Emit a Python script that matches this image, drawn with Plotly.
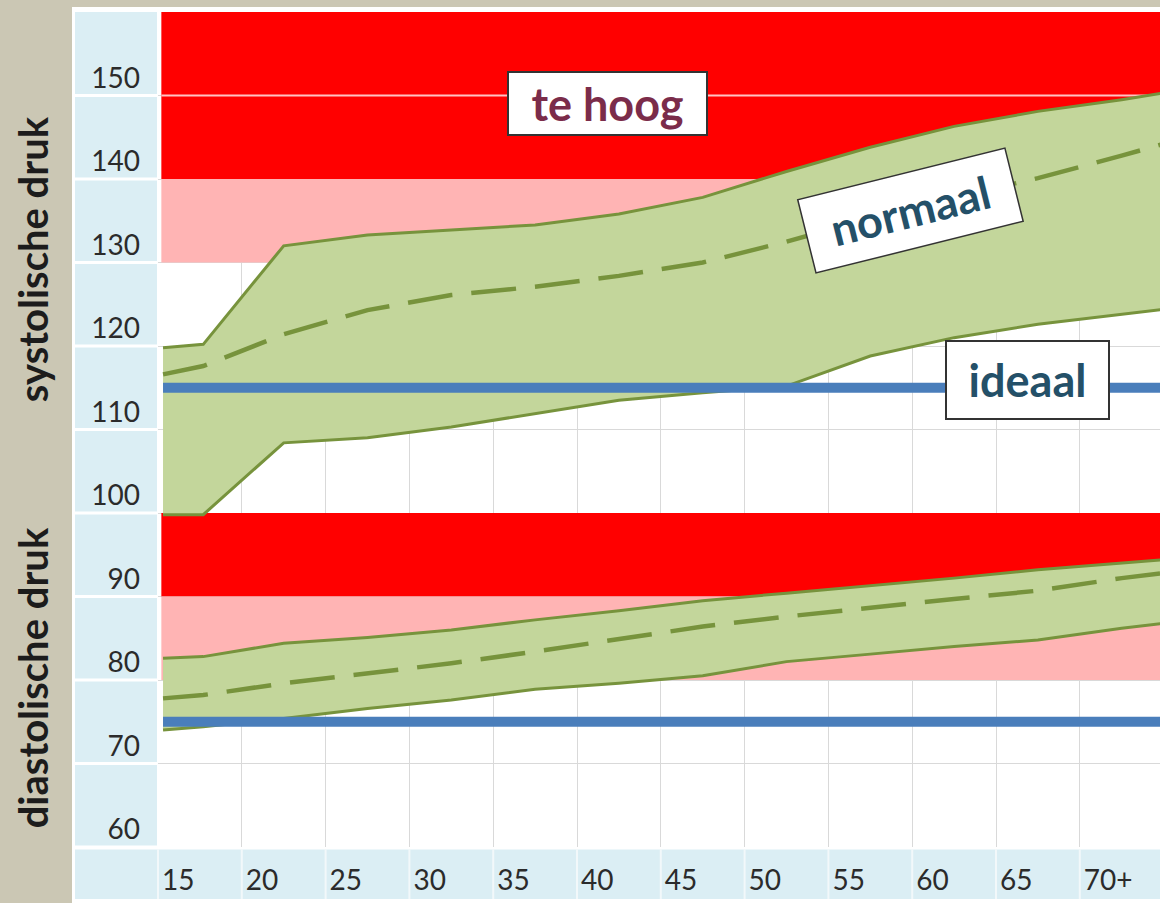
import plotly.graph_objects as go

# ---------------- data ----------------
AGES = [15.3, 17.7, 22.5, 27.5, 32.5, 37.5, 42.5, 47.5, 52.5, 57.5, 62.5, 67.5, 72.5, 75.0]

SYS_UPPER = [119.8, 120.2, 132.0, 133.3, 133.9, 134.5, 135.8, 137.8, 140.9, 143.8, 146.3, 148.1, 149.5, 150.3]
SYS_MID   = [116.6, 117.6, 121.4, 124.3, 126.1, 127.1, 128.4, 130.0, 132.5, 135.3, 137.8, 140.1, 142.8, 144.2]
SYS_LOWER = [99.8, 99.8, 108.4, 109.0, 110.3, 111.9, 113.5, 114.4, 115.2, 118.8, 121.0, 122.6, 123.8, 124.4]

DIA_UPPER = [82.6, 82.8, 84.4, 85.1, 86.0, 87.2, 88.3, 89.5, 90.4, 91.3, 92.2, 93.2, 94.0, 94.4]
DIA_MID   = [77.8, 78.2, 79.6, 80.8, 82.0, 83.4, 84.9, 86.4, 87.6, 88.7, 89.7, 90.7, 92.2, 92.8]
DIA_LOWER = [74.0, 74.4, 75.4, 76.6, 77.6, 78.9, 79.6, 80.5, 82.2, 83.1, 84.0, 84.8, 86.2, 86.8]

SYS_IDEAL = 115
DIA_IDEAL = 75

BAND_AGES = [15.2, 75.0]
ZONE_LOW  = [140, 130, 90, 80]
ZONE_HIGH = [160, 140, 100, 90]
ZONE_KIND = ["te hoog", "hoog-normaal", "te hoog", "hoog-normaal"]
SPLIT_LINE = 150

Y_TICKS = [60, 70, 80, 90, 100, 110, 120, 130, 140, 150]
Y_LABELS = [str(v) for v in Y_TICKS]
X_TICKS = [15, 20, 25, 30, 35, 40, 45, 50, 55, 60, 65, 70]
X_LABELS = ["15", "20", "25", "30", "35", "40", "45", "50", "55", "60", "65", "70+"]

# ---------------- styling ----------------
RED = "#ff0000"
PINK = "#ffb4b4"
GREEN_FILL = "#c3d69b"
GREEN_LINE = "#77933c"
BLUE = "#4a7ebb"
BEIGE = "#cbc7b4"
LIGHTBLUE = "#dbeef4"
FONT = "Lato"

W, H = 1160, 903
ML, MR, MT, MB = 158, 0, 12, 56
PLOT_W = W - ML - MR
PLOT_H = H - MT - MB
X_MIN = 15
X_MAX = X_MIN + PLOT_W / (83.8 / 5)
Y_MIN, Y_MAX = 60, 160


def px_x(px):
    return (px - ML) / PLOT_W


def px_y(py):
    return (H - MB - py) / PLOT_H


fig = go.Figure()

# coloured zones
for lo, hi, kind in zip(ZONE_LOW, ZONE_HIGH, ZONE_KIND):
    col = RED if kind == "te hoog" else PINK
    fig.add_trace(go.Scatter(
        x=[BAND_AGES[0], BAND_AGES[1], BAND_AGES[1], BAND_AGES[0]],
        y=[lo, lo, hi, hi], fill="toself", fillcolor=col,
        line=dict(width=0), mode="lines", hoverinfo="skip"))

fig.add_trace(go.Scatter(x=BAND_AGES, y=[SPLIT_LINE, SPLIT_LINE], mode="lines",
                         line=dict(color="#ffc4c4", width=2), hoverinfo="skip"))

# normal bands
for up, lo in ((SYS_UPPER, SYS_LOWER), (DIA_UPPER, DIA_LOWER)):
    fig.add_trace(go.Scatter(
        x=AGES + AGES[::-1], y=up + lo[::-1], fill="toself",
        fillcolor=GREEN_FILL, mode="lines",
        line=dict(color=GREEN_LINE, width=3), hoverinfo="skip"))

for mid in (SYS_MID, DIA_MID):
    fig.add_trace(go.Scatter(x=AGES, y=mid, mode="lines",
                             line=dict(color=GREEN_LINE, width=4.5, dash="45px,19px"),
                             hoverinfo="skip"))

for ideal in (SYS_IDEAL, DIA_IDEAL):
    fig.add_trace(go.Scatter(x=[AGES[0], AGES[-1]], y=[ideal, ideal], mode="lines",
                             line=dict(color=BLUE, width=10), hoverinfo="skip"))

# ---------------- decorations (cells around the plot) ----------------
shapes = []
shapes.append(dict(type="rect", xref="paper", yref="paper",
                   x0=px_x(72), x1=1.0, y0=px_y(H + 2), y1=px_y(7),
                   fillcolor="white", line=dict(width=0), layer="below"))
shapes.append(dict(type="rect", xref="paper", yref="paper",
                   x0=px_x(75), x1=px_x(157), y0=px_y(899), y1=1.0,
                   fillcolor=LIGHTBLUE, line=dict(width=0), layer="below"))
shapes.append(dict(type="rect", xref="paper", yref="paper",
                   x0=px_x(75), x1=1.0, y0=px_y(899), y1=px_y(849),
                   fillcolor=LIGHTBLUE, line=dict(width=0), layer="below"))
for v in Y_TICKS:
    shapes.append(dict(type="line", xref="paper", yref="y",
                       x0=px_x(75), x1=px_x(157), y0=v, y1=v,
                       line=dict(color="white", width=3), layer="below"))
shapes.append(dict(type="line", xref="paper", yref="paper",
                   x0=px_x(75), x1=1.0, y0=px_y(848), y1=px_y(848),
                   line=dict(color="white", width=3), layer="below"))
for a in X_TICKS:
    xp = (a - X_MIN) / (X_MAX - X_MIN)
    shapes.append(dict(type="line", xref="paper", yref="paper",
                       x0=xp, x1=xp, y0=px_y(899), y1=px_y(849),
                       line=dict(color="#f2f8fa", width=2), layer="below"))

annotations = [
    dict(text="<b>te hoog</b>", x=41.8, y=149.1, xref="x", yref="y", showarrow=False,
         font=dict(family=FONT, size=45, color="#7b2c4a"),
         bgcolor="white", bordercolor="#333333", borderwidth=2, borderpad=0,
         width=197, height=61, align="center", valign="middle"),
    dict(text="<b>normaal</b>", x=59.9, y=136.2, xref="x", yref="y", showarrow=False,
         font=dict(family=FONT, size=45, color="#245068"), textangle=-14,
         bgcolor="white", bordercolor="#333333", borderwidth=1.5, borderpad=0,
         width=212, height=74, align="center", valign="middle"),
    dict(text="<b>ideaal</b>", x=66.9, y=115.9, xref="x", yref="y", showarrow=False,
         font=dict(family=FONT, size=45, color="#245068"),
         bgcolor="white", bordercolor="#333333", borderwidth=2, borderpad=0,
         width=161, height=76, align="center", valign="middle"),
    dict(text="<b>systolische druk</b>", x=px_x(33), y=130.4, xref="paper", yref="y",
         xanchor="center", yanchor="middle",
         showarrow=False, textangle=-90,
         font=dict(family=FONT, size=40, color="#1c1c1c")),
    dict(text="<b>diastolische druk</b>", x=px_x(33), y=80.2, xref="paper", yref="y",
         xanchor="center", yanchor="middle",
         showarrow=False, textangle=-90,
         font=dict(family=FONT, size=40, color="#1c1c1c")),
]

fig.update_layout(
    width=W, height=H,
    margin=dict(l=ML, r=MR, t=MT, b=MB, pad=0),
    paper_bgcolor=BEIGE, plot_bgcolor="white",
    showlegend=False,
    shapes=shapes, annotations=annotations,
    xaxis=dict(range=[X_MIN, X_MAX], tickmode="array", tickvals=X_TICKS, ticktext=X_LABELS,
               showgrid=True, gridcolor="#d9d9d9", gridwidth=1, zeroline=False,
               showline=False, ticks="", ticklabelposition="outside right",
               ticklabelstandoff=14, ticklabelshift=4,
               tickfont=dict(family=FONT, size=28, color="#2b2b2b"), fixedrange=True),
    yaxis=dict(range=[Y_MIN, Y_MAX], tickmode="array", tickvals=Y_TICKS, ticktext=Y_LABELS,
               showgrid=True, gridcolor="#d9d9d9", gridwidth=1, zeroline=False,
               showline=False, ticks="", ticklabelposition="outside top",
               ticklabelstandoff=17, ticklabelshift=2,
               tickfont=dict(family=FONT, size=28, color="#2b2b2b"), fixedrange=True),
)

fig.write_html("out.html", config={"displayModeBar": False},
               post_script="document.body.style.margin='0px';document.body.style.overflow='hidden';")
